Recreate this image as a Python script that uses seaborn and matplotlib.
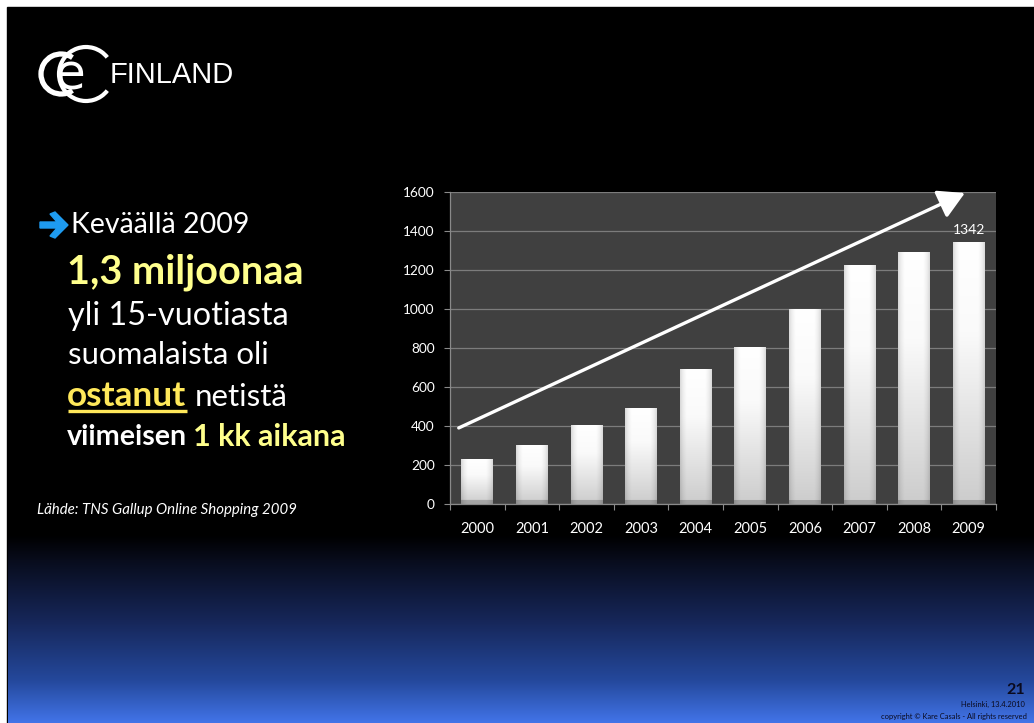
import numpy as np
import pandas as pd
import matplotlib
matplotlib.use("Agg")
import matplotlib.pyplot as plt
import seaborn as sns
from matplotlib.patches import Rectangle, Polygon, Arc

# ---------------- data ----------------
years = ["2000", "2001", "2002", "2003", "2004", "2005", "2006", "2007", "2008", "2009"]
buyers = [229, 301, 403, 491, 691, 803, 1000, 1224, 1292, 1342]
y_ticks = [0, 200, 400, 600, 800, 1000, 1200, 1400, 1600]

df = pd.DataFrame({"year": years, "buyers": buyers})

sns.set_theme(style="dark", rc={"axes.facecolor": "#404040"})
plt.rcParams["font.family"] = ["Lato", "DejaVu Sans"]

W, H = 1034, 723
fig = plt.figure(figsize=(W / 100, H / 100), dpi=100, facecolor="white")

# ---------------- slide background (pixel coordinates) ----------------
bg = fig.add_axes([0, 0, 1, 1], zorder=-5)
bg.axis("off")
bg.add_patch(Rectangle((7, 7), W - 7, H - 7, color="black", zorder=0))
stops_y = np.array([535, 560, 620, 680, 723], dtype=float)
stops_c = np.array([[0, 0, 0], [8, 12, 28], [22, 38, 88], [36, 72, 155], [66, 116, 232]], dtype=float) / 255
ys = np.linspace(535, 723, 200)
grad = np.stack([np.interp(ys, stops_y, stops_c[:, k]) for k in range(3)], axis=-1)[:, None, :]
bg.imshow(grad, extent=[8, W, 723, 535], aspect="auto", interpolation="bilinear", zorder=1)
bg.set_xlim(0, W)
bg.set_ylim(H, 0)

# logo
bg.add_patch(Arc((61, 74), 40, 40, theta1=55, theta2=305, color="white", lw=3.8, zorder=3))
bg.add_patch(Arc((86, 74), 54, 54, theta1=38, theta2=322, color="white", lw=3.0, zorder=3))
bg.text(70, 75, "e", color="white", fontsize=36, ha="center", va="center",
        family=["DejaVu Sans"], zorder=4)
bg.text(110, 75, "FINLAND", color="white", fontsize=21, ha="left", va="center",
        family=["Liberation Sans"], zorder=4)

# bullet arrow
bg.add_patch(Polygon([(40, 222), (57, 222), (50, 214), (55, 212), (68, 225), (55, 238), (50, 236),
                      (57, 228), (40, 228)], closed=True, color="#1E9BF0", zorder=3))

yel1 = "#FFFF8C"
yel2 = "#FFE85A"
bg.text(71, 225, "Keväällä 2009", color="white", fontsize=20.5, ha="left", va="center", zorder=4)
bg.text(67, 272, "1,3 miljoonaa", color=yel1, fontsize=28.5, fontweight="bold", ha="left", va="center", zorder=4)
bg.text(68, 316, "yli 15-vuotiasta", color="white", fontsize=23.3, ha="left", va="center", zorder=4)
bg.text(68, 355, "suomalaista oli", color="white", fontsize=22.5, ha="left", va="center", zorder=4)
bg.text(67, 396, "ostanut", color=yel2, fontsize=25.3, fontweight="bold", ha="left", va="center", zorder=4)
bg.plot([68, 187], [411, 411], color=yel2, lw=2.4, solid_capstyle="butt", zorder=4)
bg.text(195, 397, "netistä", color="white", fontsize=22.5, ha="left", va="center", zorder=4)
bg.text(67, 437, "viimeisen", color="white", fontsize=20.6, fontweight="bold", ha="left", va="center", zorder=4)
bg.text(193, 437, "1 kk aikana", color=yel1, fontsize=22, fontweight="bold", ha="left", va="center", zorder=4)
bg.text(37, 510, "Lähde: TNS Gallup Online Shopping 2009", color="white", fontsize=10.8, style="italic",
        ha="left", va="center", zorder=4)

# footer
bg.text(1025, 690, "21", color="#0a0a1e", fontsize=11.5, fontweight="bold", ha="right", va="center", zorder=4)
bg.text(1025, 704, "Helsinki, 13.4.2010", color="#0a0a1e", fontsize=5.4, ha="right", va="center", zorder=4)
bg.text(1027, 716, "copyright © Kare Casals - All rights reserved", color="#0a0a1e", fontsize=5.4,
        ha="right", va="center", zorder=4)

# ---------------- chart ----------------
ax = fig.add_axes([450 / W, 1 - 504 / H, 546 / W, 312 / H])
sns.barplot(data=df, x="year", y="buyers", order=years, color="white", width=0.58, ax=ax,
            saturation=1, zorder=3)

ymax = 1600
px_per_unit = 312 / ymax
horiz = np.interp(np.linspace(0, 1, 40), [0, 0.08, 0.2, 0.8, 0.92, 1], [0.86, 0.94, 1.0, 1.0, 0.94, 0.86])
for p in list(ax.patches):
    x0, y0, w, h = p.get_x(), p.get_y(), p.get_width(), p.get_height()
    hp = h * px_per_unit  # bar height in pixels
    rows = max(int(hp), 2)
    d = np.linspace(0, hp, rows)  # pixel distance from top
    base = np.interp(d / hp, [0, 0.35, 1.0], [1.0, 0.98, 0.80])
    strip = np.where(hp - d < 3.5, 0.8, 1.0)
    vert = base * strip
    shade = np.clip(vert[:, None] * horiz[None, :], 0, 1)
    img = np.dstack([shade, shade, shade])
    im = ax.imshow(img, extent=[x0, x0 + w, y0, y0 + h], aspect="auto", origin="upper",
                   interpolation="bilinear", zorder=3)
    im.set_clip_path(p)
    p.set_facecolor("none")
    p.set_edgecolor("none")

ax.set_xlim(-0.5, len(years) - 0.5)
ax.set_ylim(0, ymax)
ax.set_yticks(y_ticks)
ax.set_yticklabels([str(v) for v in y_ticks])
ax.set_xticks(range(len(years)))
ax.set_xticklabels(years)
ax.set_xticks(np.arange(-0.5, len(years), 1.0), minor=True)
ax.set_xlabel("")
ax.set_ylabel("")

ax.set_axisbelow(True)
ax.yaxis.grid(True, color="#7c7c7c", lw=0.9)
ax.xaxis.grid(False)
for s in ["top", "right"]:
    ax.spines[s].set_visible(False)
for s in ["left", "bottom"]:
    ax.spines[s].set_visible(True)
    ax.spines[s].set_color("#8a8a8a")
    ax.spines[s].set_linewidth(0.9)

ax.tick_params(axis="y", which="major", left=True, length=4, width=0.8, color="#8a8a8a",
               labelcolor="white", labelsize=9.8, pad=7)
ax.tick_params(axis="x", which="major", bottom=False, length=0, labelcolor="white", labelsize=10.5, pad=13)
ax.tick_params(axis="x", which="minor", bottom=True, length=4, width=0.8, color="#8a8a8a")

# value label on the last bar
ax.text(len(years) - 1, buyers[-1] + 30, str(buyers[-1]), color="white", fontsize=10,
        ha="center", va="bottom", zorder=5)

# trend arrow
ax.annotate("", xy=(8.93, 1595), xytext=(-0.34, 390), xycoords="data",
            arrowprops=dict(arrowstyle="-|>,head_length=0.8,head_width=0.45", color="white", lw=2.4,
                            mutation_scale=20, shrinkA=0, shrinkB=0),
            annotation_clip=False, zorder=6)

fig.savefig("out.png", dpi=100, facecolor=fig.get_facecolor())
